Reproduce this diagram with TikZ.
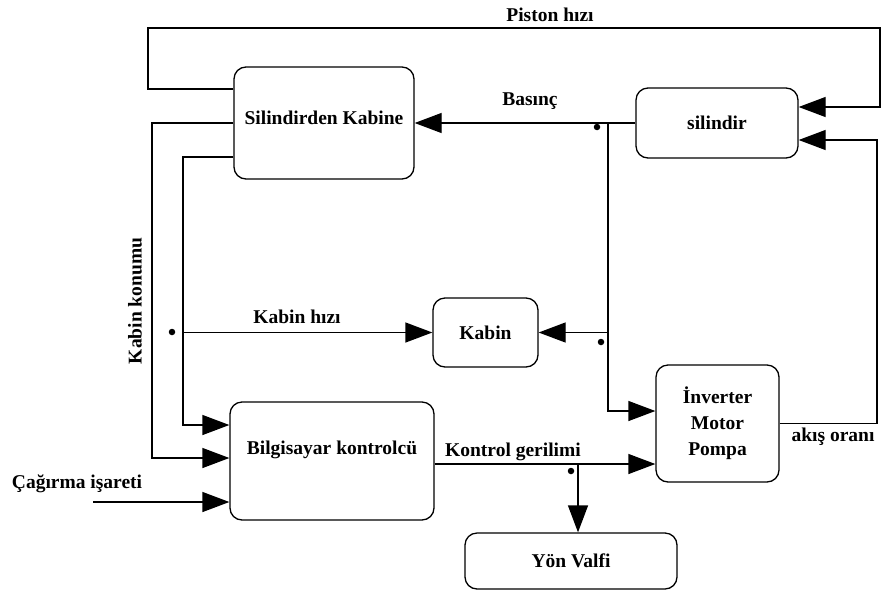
\documentclass[tikz,border=0pt]{standalone}
\usepackage{fontspec}
\setmainfont{Liberation Serif}
\usetikzlibrary{arrows.meta}
\begin{document}
\begin{tikzpicture}[x=1pt,y=-1pt,
  txt/.style={font=\bfseries\fontsize{19.5}{26}\selectfont, inner sep=0pt},
  box/.style={draw, line width=1.3pt, rounded corners=12pt, inner sep=0pt, txt},
  conn/.style={line width=1.3pt, -{Triangle[length=27pt,width=20pt]}},
  wire/.style={line width=1.3pt},
  dot/.style={circle, fill, inner sep=0pt, minimum size=6.5pt}]
\useasboundingbox (0,0) rectangle (882,592);

% boxes
\node[box, minimum width=180pt, minimum height=112pt,
      label={[txt,yshift=5pt]center:Silindirden Kabine}] (sk) at (324,123) {};
\node[box, minimum width=162pt, minimum height=70pt] (si) at (717,123) {silindir};
\node[box, minimum width=105pt, minimum height=69pt] (kb) at (485.5,332.5) {Kabin};
\node[box, minimum width=204pt, minimum height=118pt,
      label={[txt,yshift=11pt]center:Bilgisayar kontrolcü}] (bk) at (332,461) {};
\node[box, minimum width=123pt, minimum height=117pt, align=center] (inv) at (717.5,423.5)
      {İnverter\\Motor\\Pompa};
\node[box, minimum width=212pt, minimum height=56pt] (yv) at (571,561) {Yön Valfi};

% junctions
\coordinate (b1) at (608,123);
\coordinate (j1) at (183,332.5);
\coordinate (j2) at (578,464);
\coordinate (c0) at (93,502);

% Basinc
\draw[conn] (si.west) -- (sk.east);
\draw[conn] (b1) |- ([yshift=12.5pt]inv.west);
\draw[conn] (b1 |- kb.east) -- (kb.east);

% akis orani
\draw[conn] (inv.east) -- (877,423.5) |- ([yshift=-17pt]si.east);

% Piston hizi
\draw[conn] ([yshift=34pt]sk.west) -- (148,89) -- (148,28) -- (880,28) |- ([yshift=16pt]si.east);

% Kabin konumu
\draw[conn] (sk.west) -- (152,123) -- (152,458) -- ([yshift=3pt]bk.west);
\draw[conn] ([yshift=-34pt]sk.west) -- (183,157) -- (183,425) -- ([yshift=36pt]bk.west);
\draw[conn] (j1) -- (kb.west);

% Kontrol gerilimi
\draw[conn] ([yshift=-3pt]bk.east) -- ([yshift=-3pt]bk.east -| inv.west);
\draw[conn] (j2) -- (j2 |- yv.north);

% Cagirma isareti
\draw[conn] (c0) -- (c0 -| bk.west);

% dots
\node[dot] (d1) at (597,127) {};
\node[dot] (d2) at (601,342) {};
\node[dot] (d3) at (172,332) {};
\node[dot] (d4) at (571,471) {};

% labels
\node[txt] (lp) at (550,15) {Piston hızı};
\node[txt] (lb) at (530,101) {Basınç};
\node[txt] (lk) at (297,317) {Kabin hızı};
\node[txt] (lg) at (513,452) {Kontrol gerilimi};
\node[txt] (la) at (833,437) {akış oranı};
\node[txt] (lc) at (77,484) {Çağırma işareti};
\node[txt, rotate=90] (lkk) at (135,301) {Kabin konumu};
\end{tikzpicture}
\end{document}
